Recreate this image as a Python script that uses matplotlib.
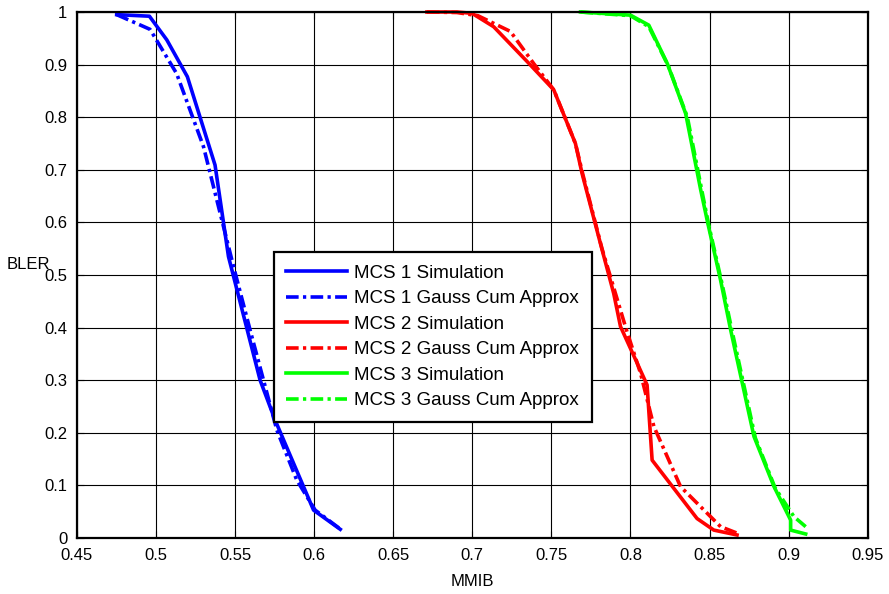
import matplotlib.pyplot as plt

plt.rcParams['font.family'] = ['Liberation Sans', 'DejaVu Sans']

# MCS 1
mcs1_sim_x = [0.4751, 0.4958, 0.5068, 0.5198, 0.5373, 0.5458, 0.5658, 0.5753, 0.5996, 0.6165]
mcs1_sim_y = [0.995, 0.992, 0.947, 0.877, 0.709, 0.535, 0.30, 0.224, 0.053, 0.0165]
mcs1_gauss_x = [0.4751, 0.4962, 0.513, 0.530, 0.5384, 0.549, 0.5595, 0.5764, 0.589, 0.6006, 0.6165]
mcs1_gauss_y = [0.995, 0.967, 0.883, 0.744, 0.643, 0.516, 0.395, 0.205, 0.11, 0.053, 0.017]

# MCS 2
mcs2_sim_x = [0.6713, 0.6903, 0.6998, 0.7135, 0.7346, 0.7515, 0.7652, 0.7694, 0.781, 0.7894,
              0.7937, 0.8105, 0.8137, 0.8421, 0.8527, 0.8674]
mcs2_sim_y = [1.0, 1.0, 0.9975, 0.972, 0.906, 0.852, 0.750, 0.693, 0.56, 0.465,
              0.402, 0.291, 0.148, 0.037, 0.015, 0.0057]
mcs2_gauss_x = [0.6713, 0.6903, 0.7035, 0.7241, 0.7388, 0.7515, 0.7652, 0.7700, 0.782, 0.7915,
                0.7975, 0.8064, 0.8148, 0.8317, 0.857, 0.8676]
mcs2_gauss_y = [1.0, 0.999, 0.993, 0.963, 0.902, 0.852, 0.750, 0.690, 0.55, 0.455,
                0.395, 0.313, 0.212, 0.0975, 0.0215, 0.009]

# MCS 3
mcs3_sim_x = [0.7684, 0.800, 0.8116, 0.8233, 0.8349, 0.8444, 0.8488, 0.857, 0.8634, 0.8781,
              0.8908, 0.9013, 0.9013, 0.9108]
mcs3_sim_y = [1.0, 0.994, 0.975, 0.902, 0.807, 0.662, 0.60, 0.49, 0.395, 0.193,
              0.0975, 0.034, 0.015, 0.0076]
mcs3_gauss_x = [0.7684, 0.800, 0.8116, 0.8240, 0.8360, 0.8455, 0.8495, 0.8578, 0.8645, 0.8790,
                0.8915, 0.9034, 0.9108]
mcs3_gauss_y = [1.0, 0.993, 0.972, 0.897, 0.800, 0.655, 0.595, 0.485, 0.39, 0.19,
                0.095, 0.0405, 0.0215]

fig = plt.figure(figsize=(8.89, 5.94), dpi=100)
ax = fig.add_axes([0.0866, 0.0943, 0.8894, 0.8855])

lw = 2.6
dd = (3.5, 1.2, 0.9, 1.2)
series = [
    (mcs1_sim_x, mcs1_sim_y, '#0000ff', None, 'MCS 1 Simulation'),
    (mcs1_gauss_x, mcs1_gauss_y, '#0000ff', dd, 'MCS 1 Gauss Cum Approx'),
    (mcs2_sim_x, mcs2_sim_y, '#ff0000', None, 'MCS 2 Simulation'),
    (mcs2_gauss_x, mcs2_gauss_y, '#ff0000', dd, 'MCS 2 Gauss Cum Approx'),
    (mcs3_sim_x, mcs3_sim_y, '#00ff00', None, 'MCS 3 Simulation'),
    (mcs3_gauss_x, mcs3_gauss_y, '#00ff00', dd, 'MCS 3 Gauss Cum Approx'),
]
for xs, ys, c, d, lab in series:
    if d is None:
        ax.plot(xs, ys, color=c, lw=lw, label=lab, clip_on=False)
    else:
        ax.plot(xs, ys, color=c, lw=lw, dashes=d, label=lab, clip_on=False)

ax.set_xlim(0.45, 0.95)
ax.set_ylim(0, 1)
ax.set_xticks([0.45, 0.5, 0.55, 0.6, 0.65, 0.7, 0.75, 0.8, 0.85, 0.9, 0.95])
ax.set_xticklabels(['0.45', '0.5', '0.55', '0.6', '0.65', '0.7', '0.75', '0.8', '0.85', '0.9', '0.95'])
ax.set_yticks([0, 0.1, 0.2, 0.3, 0.4, 0.5, 0.6, 0.7, 0.8, 0.9, 1])
ax.set_yticklabels(['0', '0.1', '0.2', '0.3', '0.4', '0.5', '0.6', '0.7', '0.8', '0.9', '1'])
ax.grid(True, color='black', lw=0.8, ls='-')
ax.set_axisbelow(True)
ax.tick_params(direction='in', top=True, right=True, labelsize=12, length=5, pad=7)
for s in ax.spines.values():
    s.set_linewidth(1.6)

ax.set_xlabel('MMIB', fontsize=12, labelpad=8)
ax.set_ylabel('BLER', fontsize=12, rotation=0)
ax.yaxis.set_label_coords(-0.062, 0.505)

leg = ax.legend(loc='upper left', bbox_to_anchor=(0.249, 0.543), fontsize=13.5,
                handlelength=3.25, fancybox=False, framealpha=1, edgecolor='black',
                borderpad=0.65, labelspacing=0.45, handletextpad=0.4, borderaxespad=0)
leg.get_frame().set_linewidth(1.6)

plt.savefig('out.png')
